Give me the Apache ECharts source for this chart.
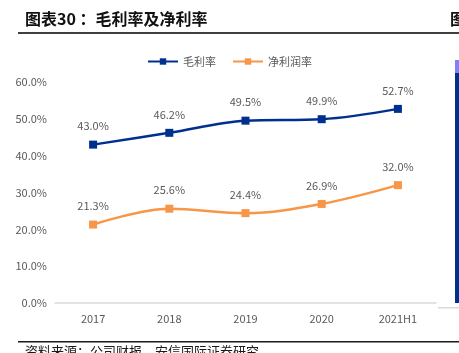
<!DOCTYPE html>
<html>
<head>
<meta charset="utf-8">
<script src="https://cdn.jsdelivr.net/npm/echarts@6/dist/echarts.min.js"></script>
<style>
  html, body { margin: 0; padding: 0; background: #fff; }
  #chart { width: 459px; height: 353px; }
</style>
</head>
<body>
<div id="chart"></div>
<script>
const years = ['2017', '2018', '2019', '2020', '2021H1'];
const grossMargin = [43.0, 46.2, 49.5, 49.9, 52.7];
const netMargin = [21.3, 25.6, 24.4, 26.9, 32.0];
const yTicks = { min: 0, max: 60, interval: 10 };

const labelColor = '#595959';
const cjk = '"Noto Sans CJK SC", "Liberation Sans", sans-serif';

const chart = echarts.init(document.getElementById('chart'));

const lineSeries = (name, data, color) => ({
  name,
  type: 'line',
  data,
  smooth: 0.35,
  symbol: 'rect',
  symbolSize: 8,
  lineStyle: { width: 2.5, color },
  itemStyle: { color },
  label: {
    show: true,
    position: 'top',
    distance: 9,
    color: labelColor,
    fontSize: 11,
    fontFamily: cjk,
    formatter: (p) => p.value.toFixed(1) + '%'
  }
});

chart.setOption({
  animation: false,
  textStyle: { fontFamily: cjk },
  grid: { left: 55, right: 23, top: 82, bottom: 50, containLabel: false },
  legend: {
    top: 51,
    left: 'center',
    itemWidth: 30,
    itemHeight: 8,
    itemGap: 16,
    textStyle: { color: labelColor, fontSize: 11, fontFamily: cjk },
    data: ['毛利率', '净利润率']
  },
  xAxis: {
    type: 'category',
    data: years,
    boundaryGap: true,
    axisLine: { lineStyle: { color: '#d9d9d9', width: 1.5 } },
    axisTick: { show: false },
    axisLabel: { color: labelColor, fontSize: 11, margin: 10, fontFamily: cjk }
  },
  yAxis: {
    type: 'value',
    min: yTicks.min,
    max: yTicks.max,
    interval: yTicks.interval,
    axisLine: { show: false },
    axisTick: { show: false },
    splitLine: { show: false },
    axisLabel: {
      color: labelColor,
      fontSize: 11,
      margin: 8,
      fontFamily: cjk,
      formatter: (v) => v.toFixed(1) + '%'
    }
  },
  series: [
    lineSeries('毛利率', grossMargin, '#00308f'),
    lineSeries('净利润率', netMargin, '#f79646')
  ],
  graphic: [
    {
      type: 'text', left: 25, top: 11,
      style: { text: '图表30 ：毛利率及净利率', fill: '#111', font: 'bold 16px ' + cjk }
    },
    {
      type: 'text', left: 450, top: 11,
      style: { text: '图', fill: '#111', font: 'bold 16px ' + cjk }
    },
    {
      type: 'rect', shape: { x: 18, y: 32, width: 441, height: 2 },
      style: { fill: '#404040' }
    },
    {
      type: 'rect', shape: { x: 18, y: 341, width: 441, height: 1.5 },
      style: { fill: '#1a1a1a' }
    },
    {
      type: 'text', left: 25, top: 345,
      style: { text: '资料来源：公司财报，安信国际证券研究', fill: '#1a1a1a', font: '13px ' + cjk }
    },
    {
      type: 'rect', shape: { x: 455, y: 60, width: 4, height: 13 },
      style: { fill: '#8080ff' }
    },
    {
      type: 'rect', shape: { x: 455, y: 73, width: 4, height: 230 },
      style: { fill: '#00308f' }
    },
    {
      type: 'rect', shape: { x: 438, y: 307, width: 21, height: 1.5 },
      style: { fill: '#d9d9d9' }
    }
  ]
});
</script>
</body>
</html>
